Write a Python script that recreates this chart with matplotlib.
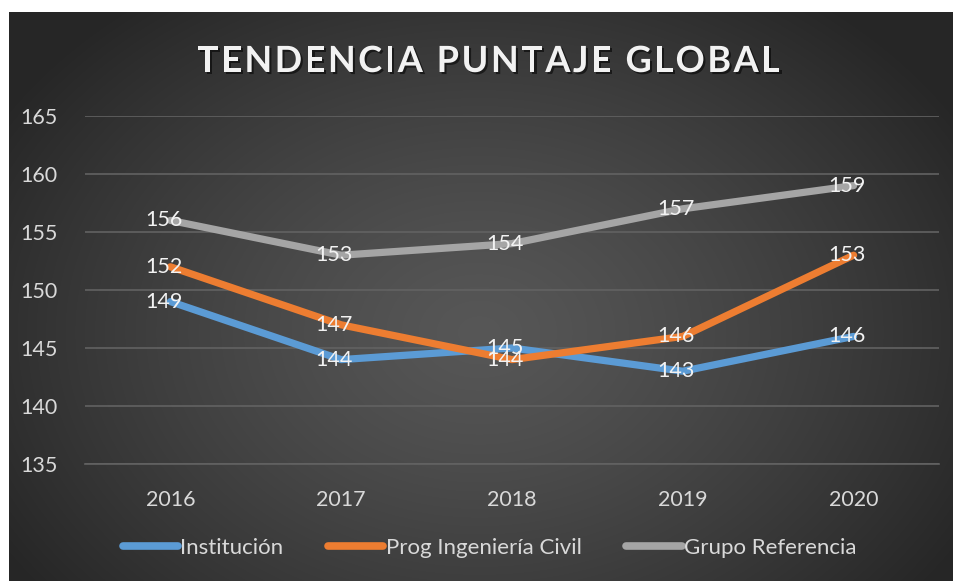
import numpy as np
import matplotlib
matplotlib.use("Agg")
import matplotlib.pyplot as plt
import matplotlib.patheffects as pe
from matplotlib.font_manager import FontProperties

# datos
years = ["2016", "2017", "2018", "2019", "2020"]
institucion = [149, 144, 145, 143, 146]
prog_civil = [152, 147, 144, 146, 153]
grupo_ref = [156, 153, 154, 157, 159]

series = [
    ("Institución", institucion, "#5B9BD5"),
    ("Prog Ingeniería Civil", prog_civil, "#ED7D31"),
    ("Grupo Referencia", grupo_ref, "#A5A5A5"),
]

title = "TENDENCIA PUNTAJE GLOBAL"

plt.rcParams["font.family"] = ["Lato", "DejaVu Sans"]

W, H = 954, 581
fig = plt.figure(figsize=(W / 100, H / 100), dpi=100)
fig.patch.set_facecolor("white")

# fondo con gradiente radial
bg = fig.add_axes([9 / W, 0, 1 - 9 / W, 1 - 12 / H])
yy, xx = np.mgrid[0:569, 0:945]
cx, cy = 470, 320
r = np.sqrt(((xx - cx) / 560.0) ** 2 + ((yy - cy) / 420.0) ** 2)
r = np.clip(r, 0, 1)
shade = 0.34 - (0.34 - 0.15) * r ** 1.3
img = np.dstack([shade, shade, shade])
bg.imshow(img, aspect="auto", extent=[0, 1, 0, 1], origin="upper")
bg.set_axis_off()

ax = fig.add_axes([85 / W, 1 - 464 / H, 854 / W, 348 / H])
ax.patch.set_alpha(0)

x = np.arange(len(years))
for name, vals, color in series:
    ax.plot(x, vals, color=color, lw=5.2, label=name,
            solid_capstyle="round", zorder=3)
    for xi, v in zip(x, vals):
        ax.text(xi - 0.04, v, str(v), color="#f2f2f2", fontsize=15.5,
                ha="center", va="center", zorder=4)

ax.set_xlim(-0.5, 4.5)
ax.set_ylim(135, 165)
ax.set_yticks(np.arange(135, 166, 5))
ax.set_xticks(x)
ax.set_xticklabels(years)
ax.grid(axis="y", color="#626262", lw=1.2, zorder=1)
for s in ["top", "right", "left"]:
    ax.spines[s].set_visible(False)
ax.spines["bottom"].set_color("#626262")
ax.spines["bottom"].set_linewidth(1.2)
ax.tick_params(axis="both", length=0, colors="#d9d9d9", labelsize=15.5)
ax.tick_params(axis="y", pad=20)
ax.tick_params(axis="x", pad=19)

# titulo con espaciado entre letras
renderer = fig.canvas.get_renderer()
tprop = FontProperties(family=["Lato", "DejaVu Sans"], weight="bold", size=26)


def text_w(s):
    w, h, d = renderer.get_text_width_height_descent(s, tprop, ismath=False)
    return w


wx = text_w("X")
natural = text_w(title)
x0, total = 197, 583
track = (total - natural) / (len(title) - 1)
for i, ch in enumerate(title):
    if ch == " ":
        continue
    px = x0 + text_w(title[:i] + "X") - wx + i * track
    fig.text(px / W, 1 - 72 / H, ch, color="#f2f2f2", fontproperties=tprop,
             ha="left", va="baseline",
             path_effects=[pe.withSimplePatchShadow(offset=(1.5, -1.5),
                                                    shadow_rgbFace="black",
                                                    alpha=0.55)])

leg = fig.legend(loc="center", bbox_to_anchor=(0.513, 1 - 548 / H), ncol=3,
                 frameon=False, fontsize=16, handlelength=2.5,
                 handletextpad=0.1, columnspacing=2.0)
for t in leg.get_texts():
    t.set_color("#d9d9d9")
for h in leg.get_lines():
    h.set_linewidth(5.5)

fig.savefig("out.png", dpi=100, facecolor=fig.get_facecolor())
